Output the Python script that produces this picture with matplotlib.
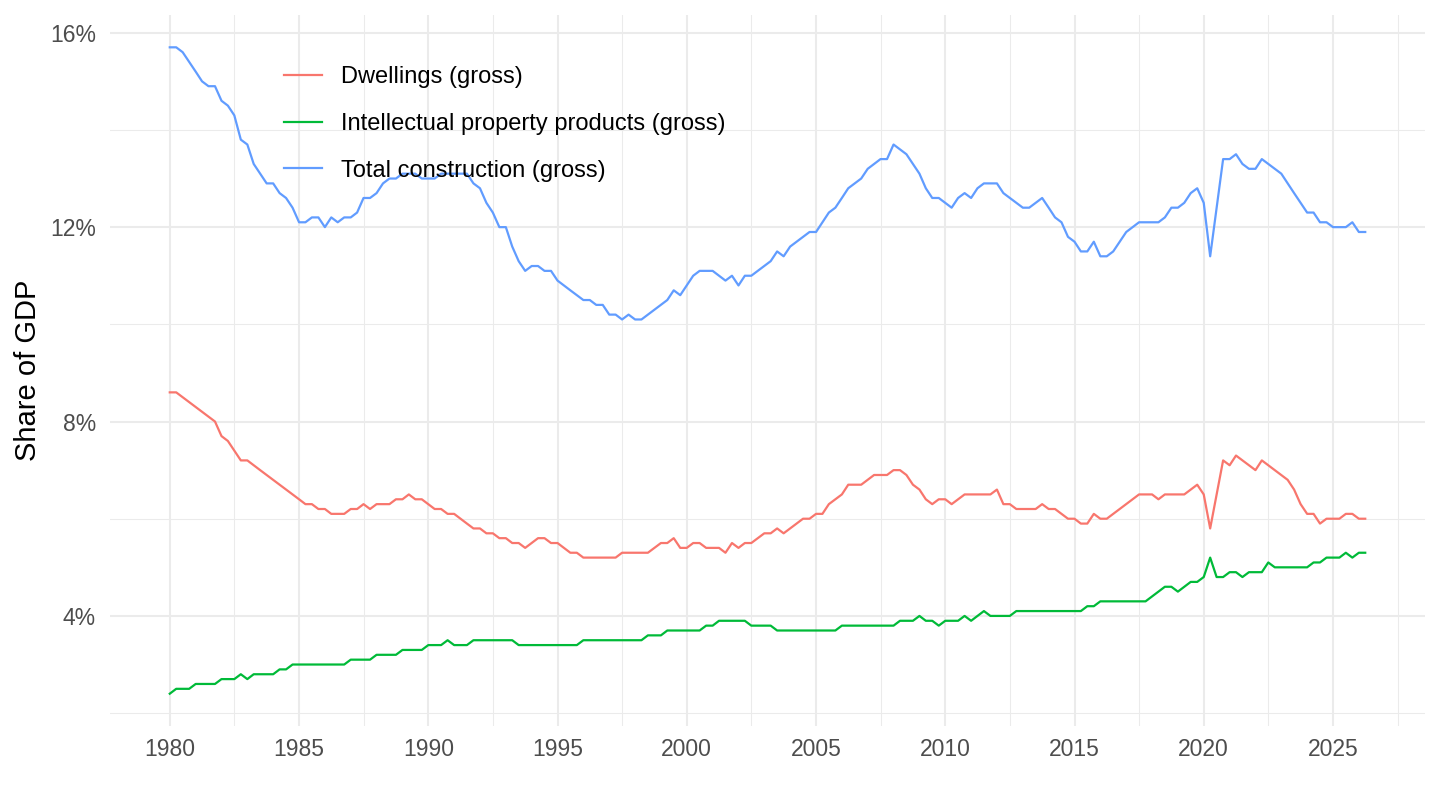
import numpy as np
import pandas as pd
import matplotlib
matplotlib.use('Agg')
import matplotlib.pyplot as plt
import matplotlib.dates as mdates
from matplotlib.ticker import FixedLocator, FuncFormatter

# quarterly shares of GDP (%), 1980Q1 onwards
dwellings = [
    8.6, 8.6, 8.5, 8.4, 8.3, 8.2, 8.1, 8.0, 7.7, 7.6,
    7.4, 7.2, 7.2, 7.1, 7.0, 6.9, 6.8, 6.7, 6.6, 6.5,
    6.4, 6.3, 6.3, 6.2, 6.2, 6.1, 6.1, 6.1, 6.2, 6.2,
    6.3, 6.2, 6.3, 6.3, 6.3, 6.4, 6.4, 6.5, 6.4, 6.4,
    6.3, 6.2, 6.2, 6.1, 6.1, 6.0, 5.9, 5.8, 5.8, 5.7,
    5.7, 5.6, 5.6, 5.5, 5.5, 5.4, 5.5, 5.6, 5.6, 5.5,
    5.5, 5.4, 5.3, 5.3, 5.2, 5.2, 5.2, 5.2, 5.2, 5.2,
    5.3, 5.3, 5.3, 5.3, 5.3, 5.4, 5.5, 5.5, 5.6, 5.4,
    5.4, 5.5, 5.5, 5.4, 5.4, 5.4, 5.3, 5.5, 5.4, 5.5,
    5.5, 5.6, 5.7, 5.7, 5.8, 5.7, 5.8, 5.9, 6.0, 6.0,
    6.1, 6.1, 6.3, 6.4, 6.5, 6.7, 6.7, 6.7, 6.8, 6.9,
    6.9, 6.9, 7.0, 7.0, 6.9, 6.7, 6.6, 6.4, 6.3, 6.4,
    6.4, 6.3, 6.4, 6.5, 6.5, 6.5, 6.5, 6.5, 6.6, 6.3,
    6.3, 6.2, 6.2, 6.2, 6.2, 6.3, 6.2, 6.2, 6.1, 6.0,
    6.0, 5.9, 5.9, 6.1, 6.0, 6.0, 6.1, 6.2, 6.3, 6.4,
    6.5, 6.5, 6.5, 6.4, 6.5, 6.5, 6.5, 6.5, 6.6, 6.7,
    6.5, 5.8, 6.5, 7.2, 7.1, 7.3, 7.2, 7.1, 7.0, 7.2,
    7.1, 7.0, 6.9, 6.8, 6.6, 6.3, 6.1, 6.1, 5.9, 6.0,
    6.0, 6.0, 6.1, 6.1, 6.0, 6.0,
]

ipp = [
    2.4, 2.5, 2.5, 2.5, 2.6, 2.6, 2.6, 2.6, 2.7, 2.7,
    2.7, 2.8, 2.7, 2.8, 2.8, 2.8, 2.8, 2.9, 2.9, 3.0,
    3.0, 3.0, 3.0, 3.0, 3.0, 3.0, 3.0, 3.0, 3.1, 3.1,
    3.1, 3.1, 3.2, 3.2, 3.2, 3.2, 3.3, 3.3, 3.3, 3.3,
    3.4, 3.4, 3.4, 3.5, 3.4, 3.4, 3.4, 3.5, 3.5, 3.5,
    3.5, 3.5, 3.5, 3.5, 3.4, 3.4, 3.4, 3.4, 3.4, 3.4,
    3.4, 3.4, 3.4, 3.4, 3.5, 3.5, 3.5, 3.5, 3.5, 3.5,
    3.5, 3.5, 3.5, 3.5, 3.6, 3.6, 3.6, 3.7, 3.7, 3.7,
    3.7, 3.7, 3.7, 3.8, 3.8, 3.9, 3.9, 3.9, 3.9, 3.9,
    3.8, 3.8, 3.8, 3.8, 3.7, 3.7, 3.7, 3.7, 3.7, 3.7,
    3.7, 3.7, 3.7, 3.7, 3.8, 3.8, 3.8, 3.8, 3.8, 3.8,
    3.8, 3.8, 3.8, 3.9, 3.9, 3.9, 4.0, 3.9, 3.9, 3.8,
    3.9, 3.9, 3.9, 4.0, 3.9, 4.0, 4.1, 4.0, 4.0, 4.0,
    4.0, 4.1, 4.1, 4.1, 4.1, 4.1, 4.1, 4.1, 4.1, 4.1,
    4.1, 4.1, 4.2, 4.2, 4.3, 4.3, 4.3, 4.3, 4.3, 4.3,
    4.3, 4.3, 4.4, 4.5, 4.6, 4.6, 4.5, 4.6, 4.7, 4.7,
    4.8, 5.2, 4.8, 4.8, 4.9, 4.9, 4.8, 4.9, 4.9, 4.9,
    5.1, 5.0, 5.0, 5.0, 5.0, 5.0, 5.0, 5.1, 5.1, 5.2,
    5.2, 5.2, 5.3, 5.2, 5.3, 5.3,
]

construction = [
    15.7, 15.7, 15.6, 15.4, 15.2, 15.0, 14.9, 14.9, 14.6, 14.5,
    14.3, 13.8, 13.7, 13.3, 13.1, 12.9, 12.9, 12.7, 12.6, 12.4,
    12.1, 12.1, 12.2, 12.2, 12.0, 12.2, 12.1, 12.2, 12.2, 12.3,
    12.6, 12.6, 12.7, 12.9, 13.0, 13.0, 13.1, 13.1, 13.1, 13.0,
    13.0, 13.0, 13.1, 13.1, 13.1, 13.1, 13.1, 12.9, 12.8, 12.5,
    12.3, 12.0, 12.0, 11.6, 11.3, 11.1, 11.2, 11.2, 11.1, 11.1,
    10.9, 10.8, 10.7, 10.6, 10.5, 10.5, 10.4, 10.4, 10.2, 10.2,
    10.1, 10.2, 10.1, 10.1, 10.2, 10.3, 10.4, 10.5, 10.7, 10.6,
    10.8, 11.0, 11.1, 11.1, 11.1, 11.0, 10.9, 11.0, 10.8, 11.0,
    11.0, 11.1, 11.2, 11.3, 11.5, 11.4, 11.6, 11.7, 11.8, 11.9,
    11.9, 12.1, 12.3, 12.4, 12.6, 12.8, 12.9, 13.0, 13.2, 13.3,
    13.4, 13.4, 13.7, 13.6, 13.5, 13.3, 13.1, 12.8, 12.6, 12.6,
    12.5, 12.4, 12.6, 12.7, 12.6, 12.8, 12.9, 12.9, 12.9, 12.7,
    12.6, 12.5, 12.4, 12.4, 12.5, 12.6, 12.4, 12.2, 12.1, 11.8,
    11.7, 11.5, 11.5, 11.7, 11.4, 11.4, 11.5, 11.7, 11.9, 12.0,
    12.1, 12.1, 12.1, 12.1, 12.2, 12.4, 12.4, 12.5, 12.7, 12.8,
    12.5, 11.4, 12.4, 13.4, 13.4, 13.5, 13.3, 13.2, 13.2, 13.4,
    13.3, 13.2, 13.1, 12.9, 12.7, 12.5, 12.3, 12.3, 12.1, 12.1,
    12.0, 12.0, 12.0, 12.1, 11.9, 11.9,
]

labels = ['Dwellings (gross)', 'Intellectual property products (gross)',
          'Total construction (gross)']
colors = ['#F8766D', '#00BA38', '#619CFF']

dates = pd.date_range('1980-01-01', periods=len(construction), freq='QS')
x = mdates.date2num(dates)

plt.rcParams['font.family'] = ['Liberation Sans', 'DejaVu Sans']

fig = plt.figure(figsize=(14.4, 8.1), dpi=100)
ax = fig.add_axes([110 / 1440, 1 - 726 / 810, 1315 / 1440, 711 / 810])

for series, lab, col in zip([dwellings, ipp, construction], labels, colors):
    ax.plot(x, series, color=col, lw=1.6, label=lab, solid_joinstyle='round')

# ggplot-like 5% expansion
xpad = 0.05 * (x[-1] - x[0])
ax.set_xlim(x[0] - xpad, x[-1] + xpad)
allv = np.concatenate([dwellings, ipp, construction])
ypad = 0.05 * (allv.max() - allv.min())
ax.set_ylim(allv.min() - ypad, allv.max() + ypad)

years = np.arange(1980, 2030, 5)
major = mdates.date2num([pd.Timestamp(f'{y}-01-01') for y in years])
minor = (major[:-1] + major[1:]) / 2
ax.xaxis.set_major_locator(FixedLocator(major))
ax.xaxis.set_minor_locator(FixedLocator(np.append(minor, major[-1] + (major[-1] - major[-2]) / 2)))
ax.xaxis.set_major_formatter(FuncFormatter(lambda v, p: mdates.num2date(v).strftime('%Y')))

ax.yaxis.set_major_locator(FixedLocator([4, 8, 12, 16]))
ax.yaxis.set_minor_locator(FixedLocator([2, 6, 10, 14]))
ax.yaxis.set_major_formatter(FuncFormatter(lambda v, p: f'{v:.0f}%'))

for s in ax.spines.values():
    s.set_visible(False)
ax.grid(which='major', color='#EBEBEB', lw=1.5)
ax.grid(which='minor', color='#EBEBEB', lw=0.75)
ax.set_axisbelow(True)
ax.tick_params(which='both', length=0, labelsize=16.5, labelcolor='#4D4D4D')
ax.tick_params(axis='x', pad=8.5)
ax.tick_params(axis='y', pad=10)

ax.set_ylabel('Share of GDP', fontsize=21, labelpad=6)

ax.legend(loc='upper left', bbox_to_anchor=(284 / 1440, 1 - 66 / 810),
          bbox_transform=fig.transFigure, frameon=False, fontsize=17,
          handlelength=1.6, handletextpad=0.8, labelspacing=1.05,
          borderpad=0, borderaxespad=0)

fig.savefig('out.png', dpi=100, facecolor='white')
